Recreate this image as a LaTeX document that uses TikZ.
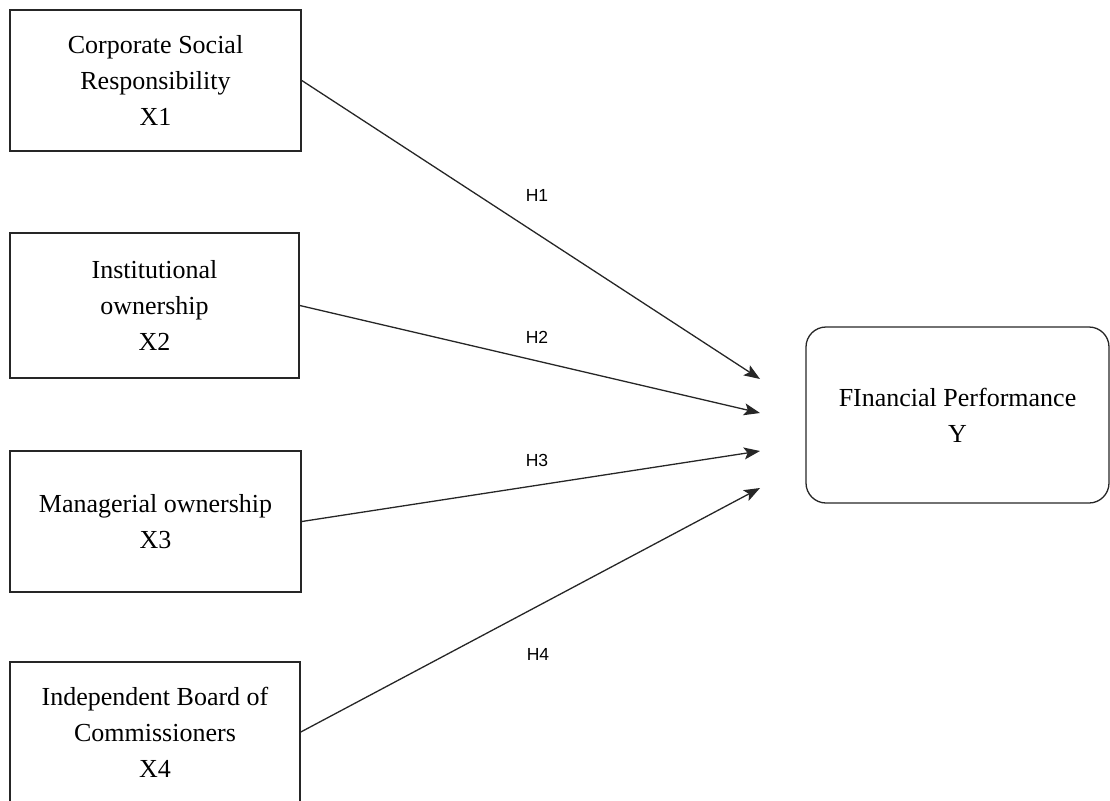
\documentclass[tikz,border=0pt]{standalone}
\usepackage{fontspec}
\setmainfont{Liberation Serif}
\newfontfamily\labfont{Liberation Sans}
\usetikzlibrary{arrows.meta}
\begin{document}
\begin{tikzpicture}[x=1pt,y=-1pt,
  varbox/.style={draw=black!85, line width=1.6pt, rectangle, inner sep=0pt, align=center,
    font=\fontsize{26}{36}\selectfont},
  ybox/.style={varbox, rounded corners=20pt, line width=1.3pt},
  hyp/.style={-{Stealth[length=16pt,width=12pt,inset=3.5pt]}, line width=1.3pt, draw=black!85},
  hlab/.style={font=\labfont\fontsize{17.5}{19}\selectfont, inner sep=0pt}]
\useasboundingbox (0,0) rectangle (1110,800);
\clip (0,0) rectangle (1110,800);
\node[varbox, minimum width=291pt, minimum height=141pt] (x1) at (155.5,80.5)
  {Corporate Social\\Responsibility\\X1};
\node[varbox, minimum width=289pt, minimum height=145pt] (x2) at (154.5,305.5)
  {Institutional\\ownership\\X2};
\node[varbox, minimum width=291pt, minimum height=141pt] (x3) at (155.5,521.5)
  {Managerial ownership\\X3};
\node[varbox, minimum width=290pt, minimum height=140pt] (x4) at (155,732)
  {Independent Board of\\Commissioners\\X4};
\node[ybox, minimum width=303pt, minimum height=176pt] (y) at (957.5,415)
  {FInancial Performance\\Y};
\coordinate (t1) at (760,379);
\coordinate (t2) at (760,413);
\coordinate (t3) at (760,451);
\coordinate (t4) at (760,488);
\draw[hyp] (x1.east) -- (t1);
\draw[hyp] (x2.east) -- (t2);
\draw[hyp] (x3.east) -- (t3);
\draw[hyp] (x4.east) -- (t4);
\node[hlab] (h1) at (537,195) {H1};
\node[hlab] (h2) at (537,337) {H2};
\node[hlab] (h3) at (537,460) {H3};
\node[hlab] (h4) at (538,654) {H4};
\end{tikzpicture}
\end{document}
